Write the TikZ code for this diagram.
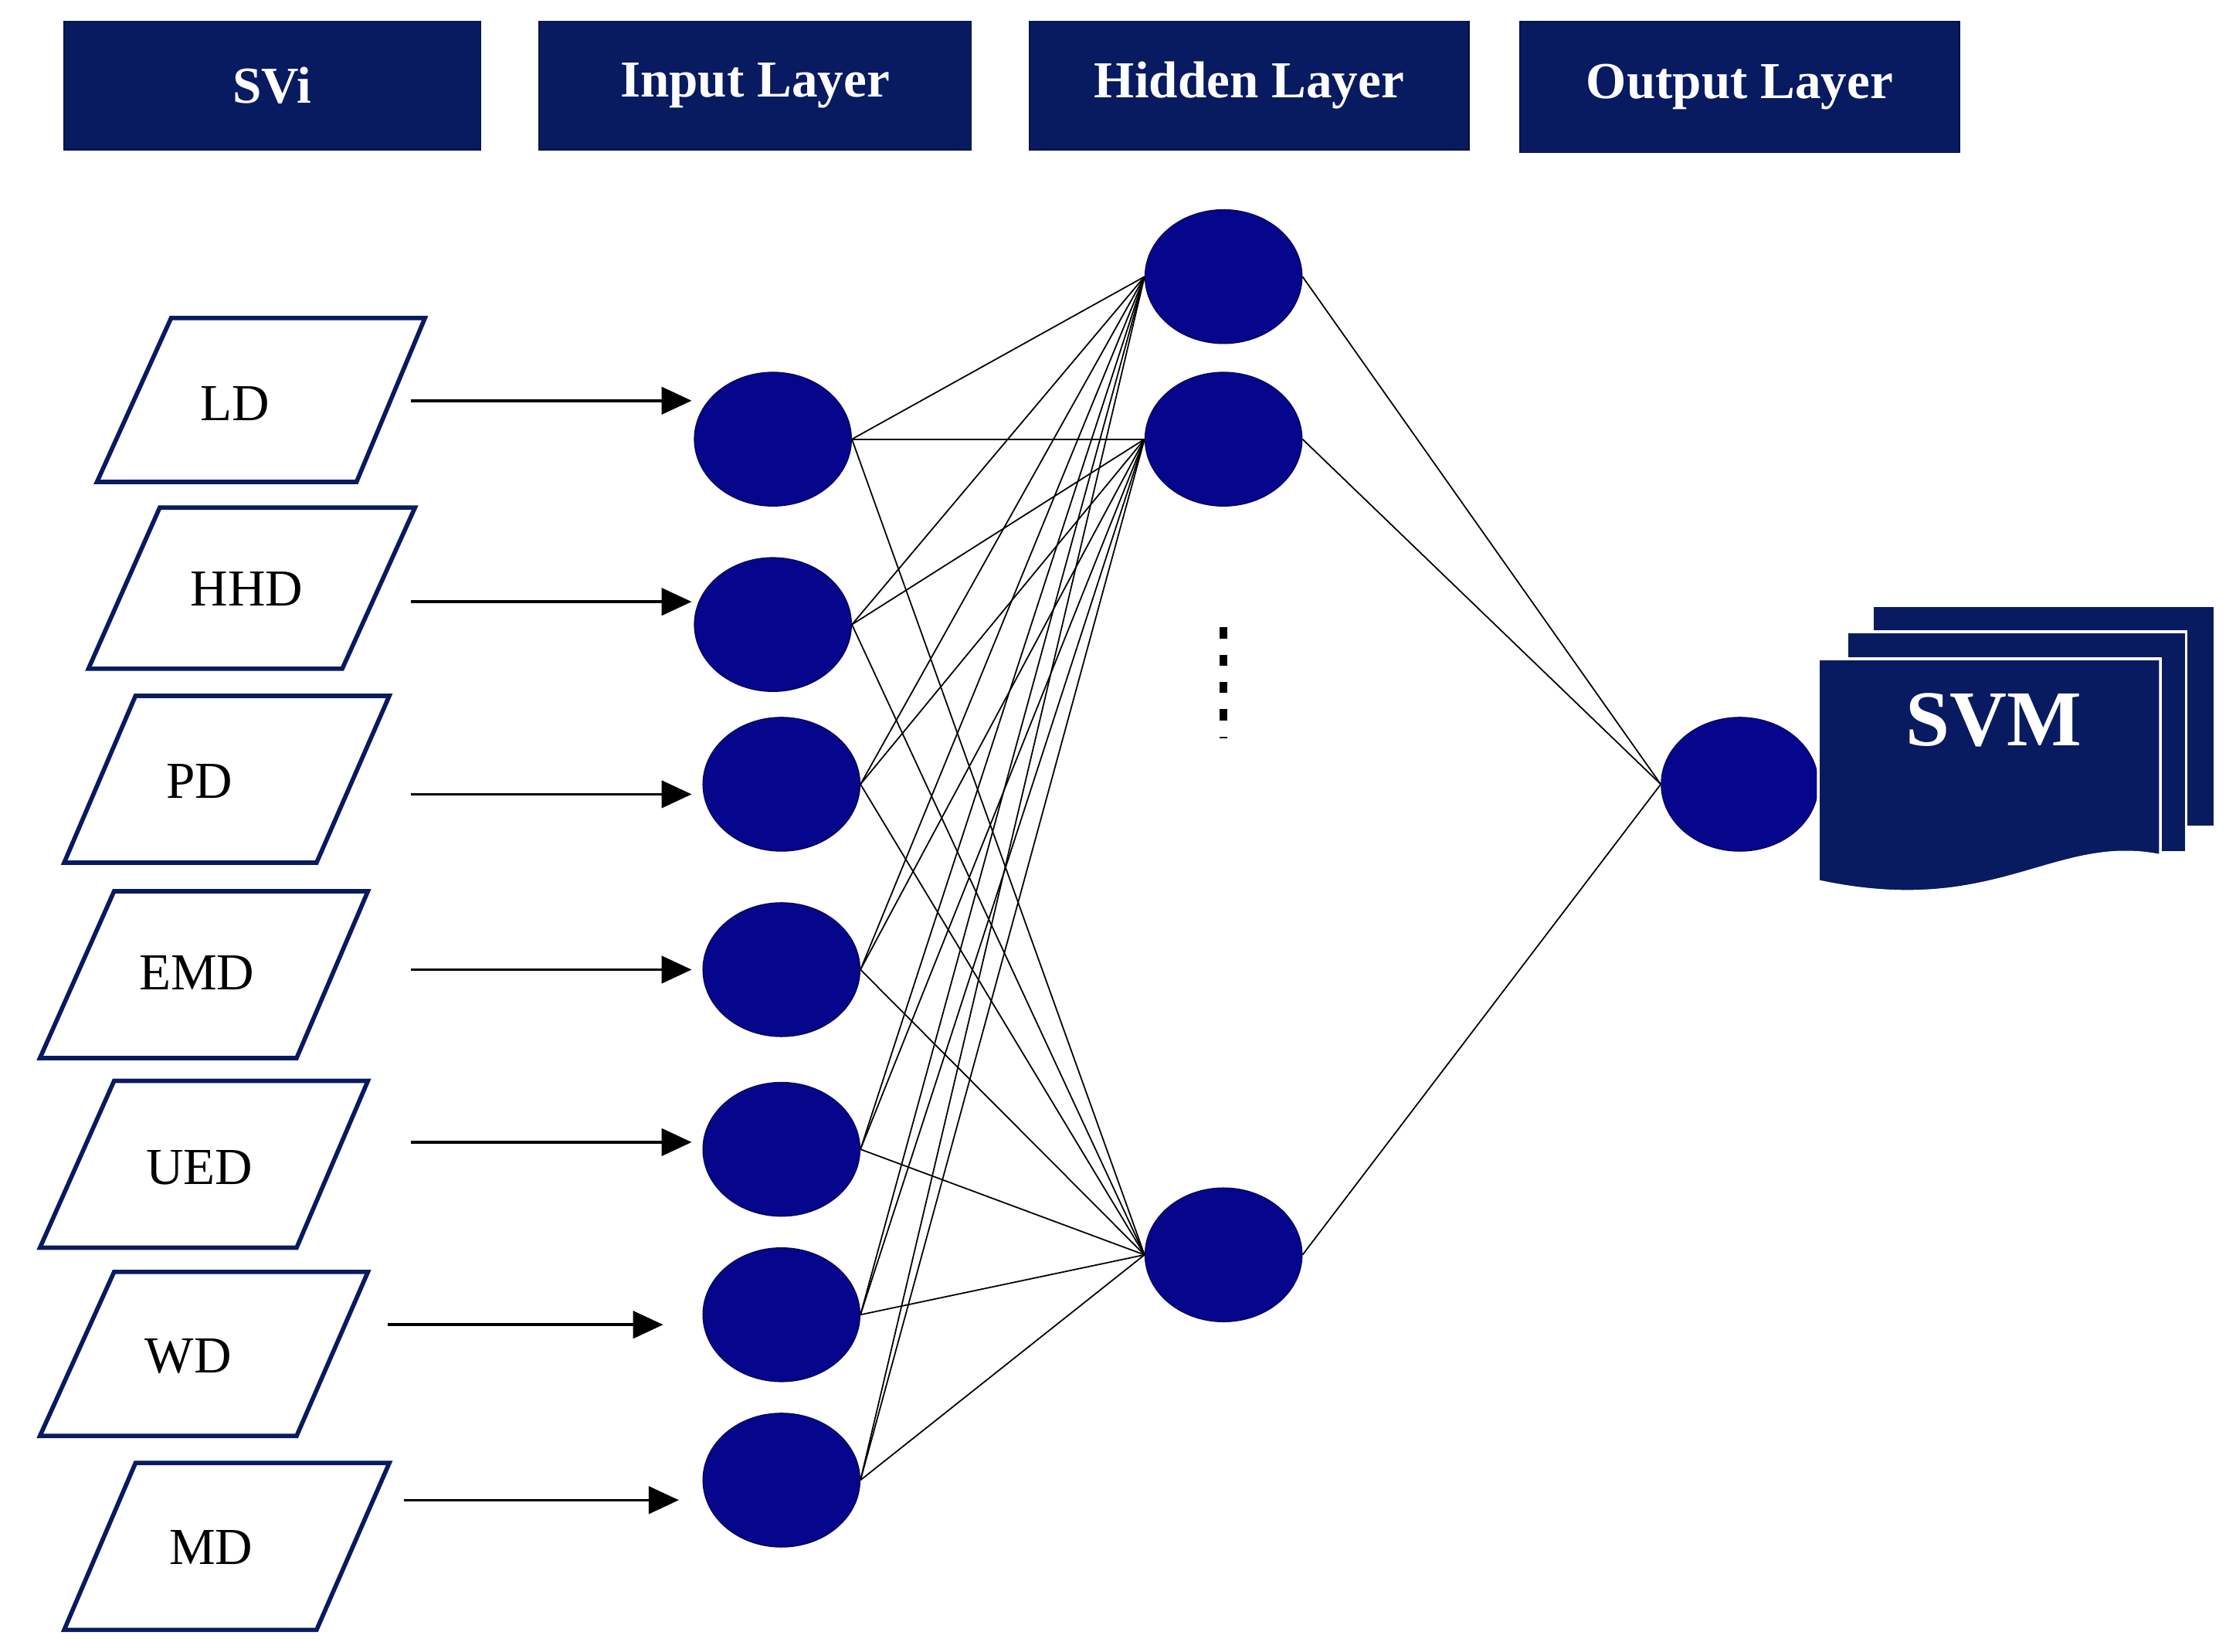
\documentclass[tikz,border=0pt]{standalone}
\usepackage{fontspec}
\setmainfont{Liberation Serif}
\usetikzlibrary{shapes.geometric,arrows.meta}
\definecolor{navy}{RGB}{8,26,96}
\definecolor{nodeblue}{RGB}{6,6,140}
\begin{document}
\begin{tikzpicture}[x=0.5225pt,y=-0.5225pt,
  hdr/.style={fill=navy,draw=navy!70!black,text=white,font=\bfseries\fontsize{19}{22}\selectfont},
  para/.style={draw=navy,line width=1.6pt,fill=white},
  lbl/.style={font=\fontsize{19}{22}\selectfont},
  neuron/.style={ellipse,fill=nodeblue,draw=nodeblue!70!black,minimum width=57.5pt,minimum height=49pt,inner sep=0pt},
  arr/.style={-{Triangle[length=11pt,width=10pt]},line width=1pt},
  con/.style={line width=0.5pt}]
\useasboundingbox (0,0) rectangle (1568,1158);
\fill[white] (0,0) rectangle (1568,1158);
% headers
\node[hdr,minimum width=152.6pt,minimum height=47pt] (h1) at (191,60) {SVi};
\node[hdr,minimum width=158.3pt,minimum height=47pt] (h2) at (529.5,60) {Input Layer};
\node[hdr,minimum width=161pt,minimum height=47pt] (h3) at (876,60) {Hidden Layer};
\node[hdr,minimum width=161pt,minimum height=48pt] (h4) at (1220,61) {Output Layer};
% parallelograms
\draw[para] (120,223)--(298,223)--(250,338)--(68,338)--cycle;
\draw[para] (112,356)--(291,356)--(240,469)--(62,469)--cycle;
\draw[para] (95,488)--(273,488)--(222,605)--(45,605)--cycle;
\draw[para] (80,625)--(258,625)--(208,742)--(28,742)--cycle;
\draw[para] (80,758)--(258,758)--(208,875)--(28,875)--cycle;
\draw[para] (80,892)--(258,892)--(208,1007)--(28,1007)--cycle;
\draw[para] (95,1026)--(273,1026)--(222,1143)--(45,1143)--cycle;
\node[lbl] (tLD) at (165,283) {LD};
\node[lbl] (tHHD) at (173,413) {HHD};
\node[lbl] (tPD) at (140,548) {PD};
\node[lbl] (tEMD) at (138,682) {EMD};
\node[lbl] (tUED) at (140,819) {UED};
\node[lbl] (tWD) at (132,951) {WD};
\node[lbl] (tMD) at (148,1085) {MD};
% neurons
\node[neuron] (i1) at (542,308) {};
\node[neuron] (i2) at (542,438) {};
\node[neuron] (i3) at (548,550) {};
\node[neuron] (i4) at (548,680) {};
\node[neuron] (i5) at (548,806) {};
\node[neuron] (i6) at (548,922) {};
\node[neuron] (i7) at (548,1038) {};
\node[neuron] (n1) at (858,194) {};
\node[neuron] (n2) at (858,308) {};
\node[neuron] (n3) at (858,880) {};
\node[neuron] (o) at (1220,550) {};
% arrows
\coordinate (a1) at (288,281); \coordinate (b1) at (485,281);
\coordinate (a2) at (288,422); \coordinate (b2) at (485,422);
\coordinate (a3) at (288,557); \coordinate (b3) at (485,557);
\coordinate (a4) at (288,680); \coordinate (b4) at (485,680);
\coordinate (a5) at (288,801); \coordinate (b5) at (485,801);
\coordinate (a6) at (272,929); \coordinate (b6) at (465,929);
\coordinate (a7) at (283,1052); \coordinate (b7) at (476,1052);
\foreach \k in {1,...,7}{\draw[arr] (a\k)--(b\k);}
% connections
\foreach \i in {1,...,7}{\foreach \h in {1,2,3}{\draw[con] (i\i.east)--(n\h.west);}}
\foreach \h in {1,2,3}{\draw[con] (n\h.east)--(o.west);}
\coordinate (d1) at (858,440); \coordinate (d2) at (858,518);
\draw[line width=3pt,dash pattern=on 4pt off 6pt] (d1)--(d2);
% SVM stack
\draw[fill=navy,draw=white,line width=1pt] (1313,425) rectangle (1553,580);
\draw[fill=navy,draw=white,line width=1pt] (1295,443) rectangle (1533,598);
\draw[fill=navy,draw=white,line width=1pt] (1275,462)--(1515,462)--(1515,600) .. controls (1440,585) and (1400,645) .. (1275,618)--cycle;
\node[text=white,font=\bfseries\fontsize{29}{32}\selectfont] (svm) at (1398,505) {SVM};
\end{tikzpicture}
\end{document}
